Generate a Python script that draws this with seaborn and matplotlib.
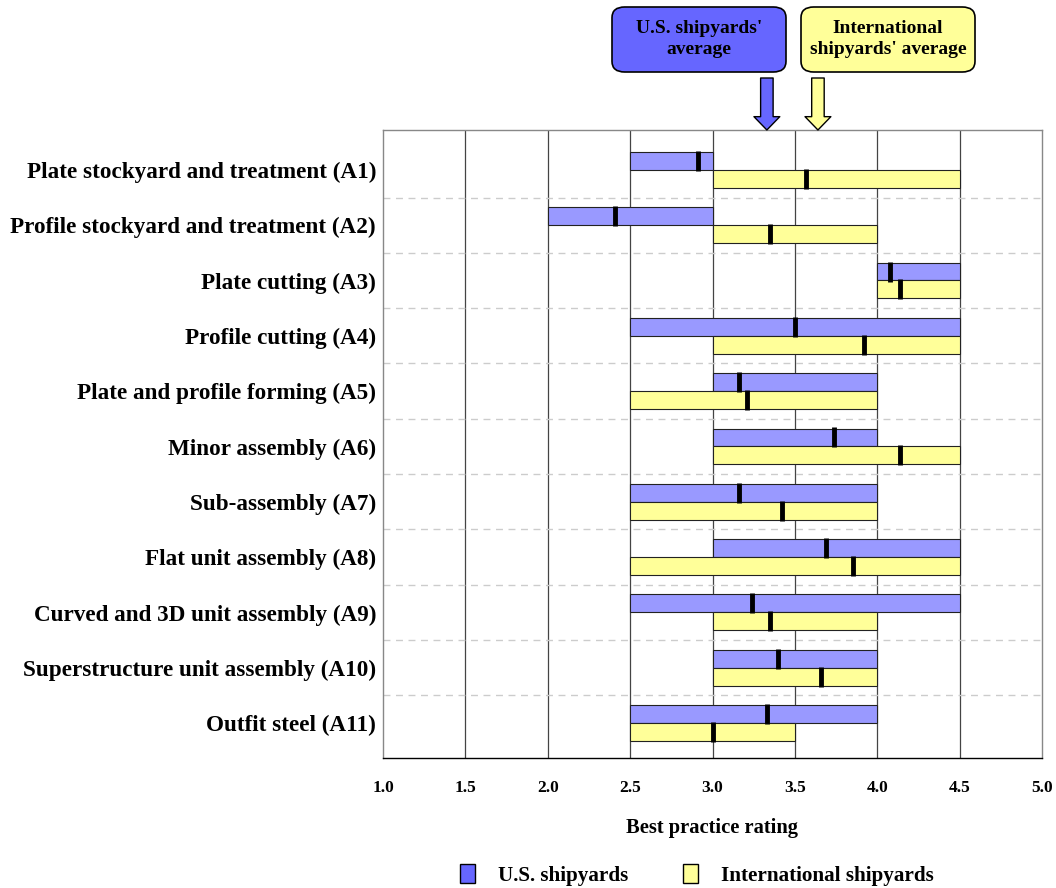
"""Best practice rating ranges: U.S. vs international shipyards (steelwork stages)."""
import matplotlib
matplotlib.use('Agg')
import matplotlib.pyplot as plt
from matplotlib.patches import FancyBboxPatch, Patch
import seaborn as sns
import pandas as pd

categories = [
    'Plate stockyard and treatment (A1)',
    'Profile stockyard and treatment (A2)',
    'Plate cutting (A3)',
    'Profile cutting (A4)',
    'Plate and profile forming (A5)',
    'Minor assembly (A6)',
    'Sub-assembly (A7)',
    'Flat unit assembly (A8)',
    'Curved and 3D unit assembly (A9)',
    'Superstructure unit assembly (A10)',
    'Outfit steel (A11)',
]
us_low = [2.5, 2.0, 4.0, 2.5, 3.0, 3.0, 2.5, 3.0, 2.5, 3.0, 2.5]
us_high = [3.0, 3.0, 4.5, 4.5, 4.0, 4.0, 4.0, 4.5, 4.5, 4.0, 4.0]
us_mean = [2.91, 2.41, 4.08, 3.50, 3.16, 3.74, 3.16, 3.69, 3.24, 3.40, 3.33]
intl_low = [3.0, 3.0, 4.0, 3.0, 2.5, 3.0, 2.5, 2.5, 3.0, 3.0, 2.5]
intl_high = [4.5, 4.0, 4.5, 4.5, 4.0, 4.5, 4.0, 4.5, 4.0, 4.0, 3.5]
intl_mean = [3.57, 3.35, 4.14, 3.92, 3.21, 4.14, 3.42, 3.85, 3.35, 3.66, 3.00]
us_avg = 3.33
intl_avg = 3.64
x_ticks = [1.0, 1.5, 2.0, 2.5, 3.0, 3.5, 4.0, 4.5, 5.0]

US_COLOR = '#9999ff'
INTL_COLOR = '#ffff99'
US_BOX = '#6666ff'

sns.set_style('white')
plt.rcParams['font.family'] = ['Liberation Serif', 'DejaVu Serif']
plt.rcParams['font.weight'] = 'bold'
plt.rcParams['text.color'] = 'black'
plt.rcParams['axes.labelcolor'] = 'black'
plt.rcParams['xtick.color'] = 'black'
plt.rcParams['ytick.color'] = 'black'

fig = plt.figure(figsize=(10.56, 8.88), dpi=100)
ax = fig.add_axes([383 / 1056, 130 / 888, 659 / 1056, 628 / 888])

n = len(categories)
pos = list(range(n))
bh = 0.325
us_y = [p - bh / 2 for p in pos]
intl_y = [p + bh / 2 for p in pos]

# vertical grid
for t in x_ticks[1:-1]:
    ax.axvline(t, color='#444444', lw=0.9, zorder=0)
# dashed row separators
for p in pos[:-1]:
    ax.axhline(p + 0.5, color='#cccccc', lw=1.0, ls=(0, (5, 4)), zorder=0)

ax.barh(us_y, [h - l for l, h in zip(us_low, us_high)], left=us_low, height=bh,
        color=US_COLOR, edgecolor='#222222', linewidth=0.8, zorder=2)
ax.barh(intl_y, [h - l for l, h in zip(intl_low, intl_high)], left=intl_low, height=bh,
        color=INTL_COLOR, edgecolor='#222222', linewidth=0.8, zorder=2)

means = pd.DataFrame({
    'x': us_mean + intl_mean,
    'y': us_y + intl_y,
})
sns.scatterplot(data=means, x='x', y='y', marker='|', s=190, color='black',
                linewidth=3.5, ax=ax, zorder=3, legend=False)

ax.set_xlim(1.0, 5.0)
ax.set_ylim(n - 1 + 0.63, -0.72)
ax.set_xticks(x_ticks)
ax.set_xticklabels([f'{t:.1f}' for t in x_ticks], fontsize=12.5, fontweight='bold')
ax.set_yticks(pos)
ax.set_yticklabels(categories, fontsize=16.7, fontweight='bold')
ax.tick_params(axis='x', direction='in', length=5, width=1, pad=16, color='black')
ax.tick_params(axis='y', length=0, pad=5)
ax.set_xlabel('Best practice rating', fontsize=14.8, fontweight='bold', labelpad=16)
ax.set_ylabel('')
for side in ['left', 'right', 'top']:
    ax.spines[side].set_color('#888888')
    ax.spines[side].set_linewidth(1.0)
ax.spines['bottom'].set_color('black')
ax.spines['bottom'].set_linewidth(1.0)

# average callouts
boxes = [
    (612, US_BOX, "U.S. shipyards'\naverage"),
    (801, INTL_COLOR, "International\nshipyards' average"),
]
for x0, col, txt in boxes:
    fig.patches.append(FancyBboxPatch(
        (x0 / 1056, 1 - 72 / 888), 174 / 1056, 65 / 888,
        boxstyle='round,pad=0,rounding_size=0.012', transform=fig.transFigure,
        facecolor=col, edgecolor='black', linewidth=1.2))
    fig.text((x0 + 87) / 1056, 1 - 39 / 888, txt, ha='center', va='center',
             fontsize=14, fontweight='bold', linespacing=1.35)

for avg, col in [(us_avg, US_BOX), (intl_avg, INTL_COLOR)]:
    ax.annotate('', xy=(avg, 1.0), xycoords=('data', 'axes fraction'),
                xytext=(avg, 1.0 + 52 / 628), textcoords=('data', 'axes fraction'),
                arrowprops=dict(arrowstyle='simple,head_length=0.8,head_width=1.55,tail_width=0.75',
                                mutation_scale=12, fc=col, ec='black', lw=1.0,
                                shrinkA=0, shrinkB=0),
                annotation_clip=False)

handles = [Patch(facecolor=US_BOX, edgecolor='black', label='U.S. shipyards'),
           Patch(facecolor=INTL_COLOR, edgecolor='black', label='International shipyards')]
fig.legend(handles=handles, loc='center', bbox_to_anchor=(697 / 1056, 13 / 888), ncol=2,
           frameon=False, prop={'size': 15.2, 'weight': 'bold'}, handlelength=0.7,
           handleheight=1.0, columnspacing=2.6, handletextpad=1.1, borderpad=0.2)

fig.savefig('out.png', dpi=100)
